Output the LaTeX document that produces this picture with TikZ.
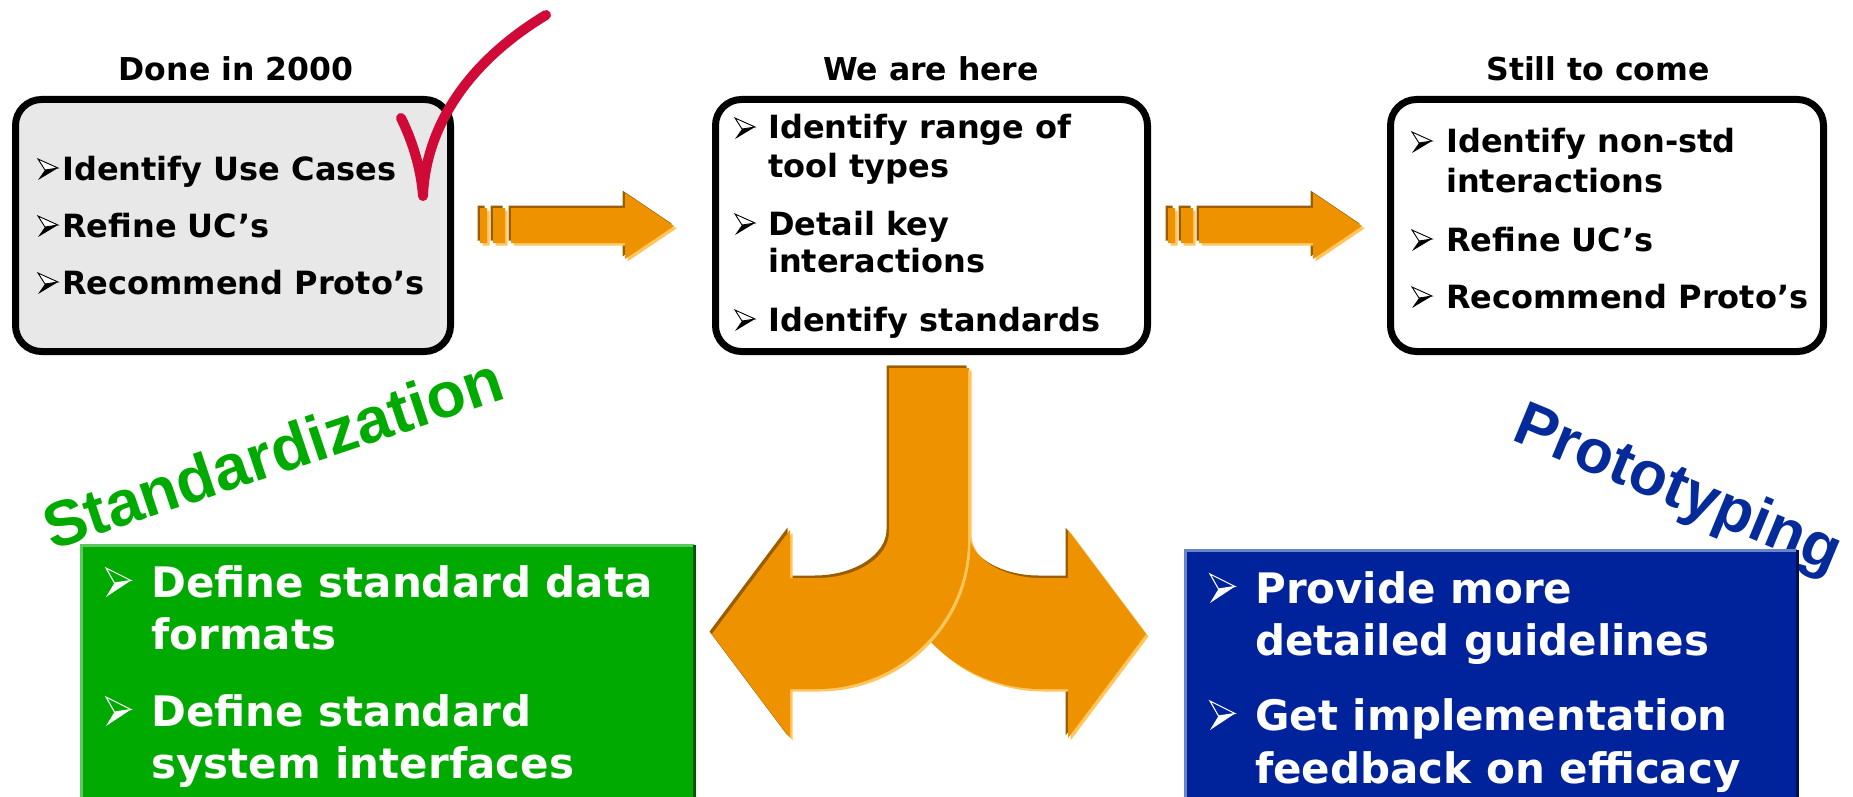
\documentclass[tikz,border=0pt]{standalone}
\usepackage{fontspec}
\setmainfont{DejaVu Sans}
\newfontfamily\arialfont{Liberation Sans}
\definecolor{orng}{HTML}{EE9200}
\definecolor{shdark}{HTML}{9A5E00}
\definecolor{shlight}{HTML}{FFC55E}
\definecolor{boxgray}{HTML}{E8E8E8}
\definecolor{stdgreen}{HTML}{00AA00}
\definecolor{grnlight}{HTML}{5DC85D}
\definecolor{grndark}{HTML}{005A00}
\definecolor{boxblue}{HTML}{00239C}
\definecolor{protoblue}{HTML}{052A9A}
\definecolor{bluelight}{HTML}{6A84C8}
\definecolor{bluedark}{HTML}{00104A}
\definecolor{checkred}{HTML}{D00A36}
\tikzset{
  roundbox/.style={draw=black, line width=7pt, rounded corners=26pt, inner sep=0pt},
  title/.style={font=\fontsize{31.5}{37}\selectfont\bfseries, anchor=base, inner sep=0pt},
  item/.style={font=\fontsize{32}{38}\selectfont\bfseries, anchor=base west, inner sep=0pt},
  witem/.style={font=\fontsize{42}{50}\selectfont\bfseries, anchor=base west, inner sep=0pt, text=white},
  darkbul/.pic={
    \fill[black] (7,11) -- (20,9) -- (0,21) -- cycle;
    \filldraw[fill=white, draw=black, line width=0.9pt, line join=miter] (0,0) -- (20,9) -- (7,11) -- cycle;
  },
  lightbul/.pic={
    \fill[white] (8.5,15) -- (25,12.5) -- (0,29) -- cycle;
    \draw[white, line width=1.1pt, line join=miter] (0,0) -- (25,12.5) -- (8.5,15) -- cycle;
  },
  fatarr/.pic={
    \foreach \d/\c in {-2.5/shdark,2.5/shlight,0/orng}{
      \fill[fill=\c, shift={(\d,\d)}] (0,0) rectangle (7,35) (13,0) rectangle (25,35)
        (31,0) -- (145,0) -- (145,-15) -- (194,18) -- (145,51) -- (145,35) -- (31,35) -- cycle;
    }
  },
}
\begin{document}
\begin{tikzpicture}[x=1pt,y=-1pt]
\useasboundingbox (0,0) rectangle (1853,797);

% top boxes
\node[roundbox, fill=boxgray, minimum width=435pt, minimum height=252pt] (box1) at (233,225.5) {};
\node[roundbox, fill=white, minimum width=432pt, minimum height=252pt] (box2) at (931.5,225.5) {};
\node[roundbox, fill=white, minimum width=433pt, minimum height=252pt] (box3) at (1607,225.5) {};

\node[title] (t1) at (236,81) {Done in 2000};
\node[title] (t2) at (931,81) {We are here};
\node[title] (t3) at (1598,81) {Still to come};

% box 1 items
\pic at (38,159) {darkbul};
\pic at (38,216) {darkbul};
\pic at (38,273) {darkbul};
\node[item] (a1) at (62,180) {Identify Use Cases};
\node[item] (a2) at (62,237) {Refine UC’s};
\node[item] (a3) at (62,294) {Recommend Proto’s};

% box 2 items
\pic at (735,118) {darkbul};
\pic at (735,214) {darkbul};
\pic at (735,310) {darkbul};
\node[item] (b1) at (768,139) {Identify range of};
\node[item] (b1b) at (768,177) {tool types};
\node[item] (b2) at (768,235) {Detail key};
\node[item] (b2b) at (768,272) {interactions};
\node[item] (b3) at (768,331) {Identify standards};

% box 3 items
\pic at (1412,132) {darkbul};
\pic at (1412,230) {darkbul};
\pic at (1412,287) {darkbul};
\node[item] (c1) at (1446,153) {Identify non-std};
\node[item] (c1b) at (1446,192) {interactions};
\node[item] (c2) at (1446,251) {Refine UC’s};
\node[item] (c3) at (1446,308) {Recommend Proto’s};

% check mark
\draw[checkred, line width=10pt, line cap=round, line join=round]
  (401,118) .. controls (412,140) and (421,168) .. (423,196)
  .. controls (425,140) and (455,70) .. (546,15);

% block arrows between boxes
\pic at (480,208) {fatarr};
\pic at (1168,208) {fatarr};

% split arrow: right branch then left branch
\foreach \d/\c in {-2.5/shdark,2.5/shlight,0/orng}{
  \fill[fill=\c, shift={(\d,\d)}]
    (969,368) -- (890,368) -- (890,540) .. controls (890,622) and (958,689) .. (1041,689)
    -- (1068,689) -- (1068,738) -- (1146,634) -- (1068,530) -- (1068,578) -- (1041,578)
    .. controls (1001,578) and (969,557) .. (969,532) -- cycle;
}
\foreach \d/\c in {-2.5/shdark,2.5/shlight,0/orng}{
  \fill[fill=\c, shift={(\d,\d)}]
    (889,368) -- (968,368) -- (968,540) .. controls (968,622) and (900,689) .. (817,689)
    -- (790,689) -- (790,738) -- (712,634) -- (790,530) -- (790,578) -- (817,578)
    .. controls (857,578) and (889,557) .. (889,532) -- cycle;
}

% headings
\node[font=\arialfont\bfseries\fontsize{64}{72}\selectfont, text=stdgreen, rotate=18.5, anchor=base, inner sep=0pt] (std) at (280,474) {Standardization};
\node[font=\arialfont\bfseries\fontsize{62}{72}\selectfont, text=protoblue, rotate=-22.5, anchor=base, inner sep=0pt] (proto) at (1671,506) {Prototyping};

% green box
\node[fill=stdgreen, minimum width=613pt, minimum height=260pt, anchor=north west, inner sep=0pt, outer sep=0pt] (gbox) at (81,545) {};
\draw[grnlight, line width=3pt] (gbox.south west) -- (gbox.north west) -- (gbox.north east);
\draw[grndark, line width=3pt] (gbox.north east) -- (gbox.south east);
\pic at (106,568) {lightbul};
\pic at (106,697) {lightbul};
\node[witem] (g1) at (151,597) {Define standard data};
\node[witem] (g1b) at (151,649) {formats};
\node[witem] (g2) at (151,726) {Define standard};
\node[witem] (g2b) at (151,778) {system interfaces};

% blue box
\node[fill=boxblue, minimum width=612pt, minimum height=260pt, anchor=north west, inner sep=0pt, outer sep=0pt] (pbox) at (1185,550) {};
\draw[bluelight, line width=3pt] (pbox.south west) -- (pbox.north west) -- (pbox.north east);
\draw[bluedark, line width=3pt] (pbox.north east) -- (pbox.south east);
\pic at (1210,574) {lightbul};
\pic at (1210,701) {lightbul};
\node[witem] (p1) at (1255,603) {Provide more};
\node[witem] (p1b) at (1255,655) {detailed guidelines};
\node[witem] (p2) at (1255,730) {Get implementation};
\node[witem] (p2b) at (1255,783) {feedback on efficacy};
\end{tikzpicture}
\end{document}
